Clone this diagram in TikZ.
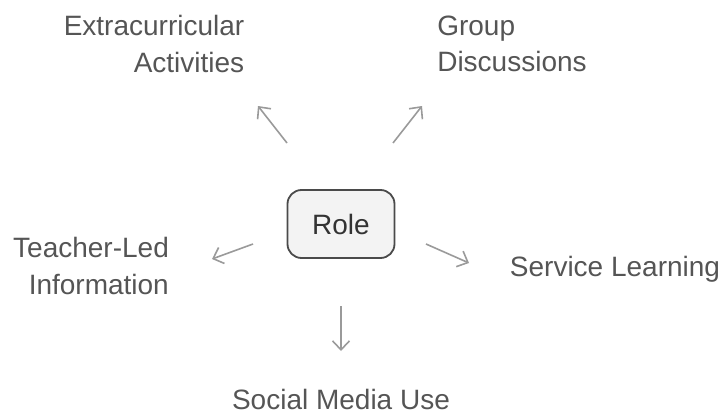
\documentclass[tikz,border=0pt]{standalone}
\usepackage{fontspec}
\setmainfont{Liberation Sans}
\usetikzlibrary{arrows.meta}
\definecolor{txt}{HTML}{555555}
\definecolor{arr}{HTML}{9A9A9A}
\definecolor{boxfill}{HTML}{F3F3F3}
\definecolor{boxline}{HTML}{4A4A4A}
\tikzset{
  lbl/.style={text=txt, font=\fontsize{28}{36.5}\selectfont, inner sep=0pt},
  rolebox/.style={draw=boxline, line width=1.8pt, fill=boxfill, rounded corners=14pt,
    minimum width=107pt, minimum height=68pt, text=black!80, font=\fontsize{28}{34}\selectfont},
  arrowline/.style={draw=arr, line width=1.6pt, -{Straight Barb[length=9pt,width=17pt,line width=1.6pt]}}
}
\begin{document}
\begin{tikzpicture}[x=1pt,y=-1pt]
\useasboundingbox (0,0) rectangle (724,415);
\node[rolebox] (role) at (341,224) {Role};
\node[lbl, align=right] (ext) at (154,44) {Extracurricular\\Activities};
\node[lbl, align=left] (grp) at (512,44) {Group\\Discussions};
\node[lbl, align=right] (teach) at (91,266) {Teacher-Led\\Information};
\node[lbl] (serv) at (615,269) {Service Learning};
\node[lbl] (soc) at (341,399) {Social Media Use};
\coordinate (e1) at (287,143); \coordinate (e2) at (258,106);
\coordinate (g1) at (393,143); \coordinate (g2) at (422,106);
\coordinate (t1) at (253,244); \coordinate (t2) at (212,259);
\coordinate (s1) at (426,244); \coordinate (s2) at (469,263);
\coordinate (m1) at (341,306); \coordinate (m2) at (341,351);
\draw[arrowline] (e1) -- (e2);
\draw[arrowline] (g1) -- (g2);
\draw[arrowline] (t1) -- (t2);
\draw[arrowline] (s1) -- (s2);
\draw[arrowline] (m1) -- (m2);
\end{tikzpicture}
\end{document}
